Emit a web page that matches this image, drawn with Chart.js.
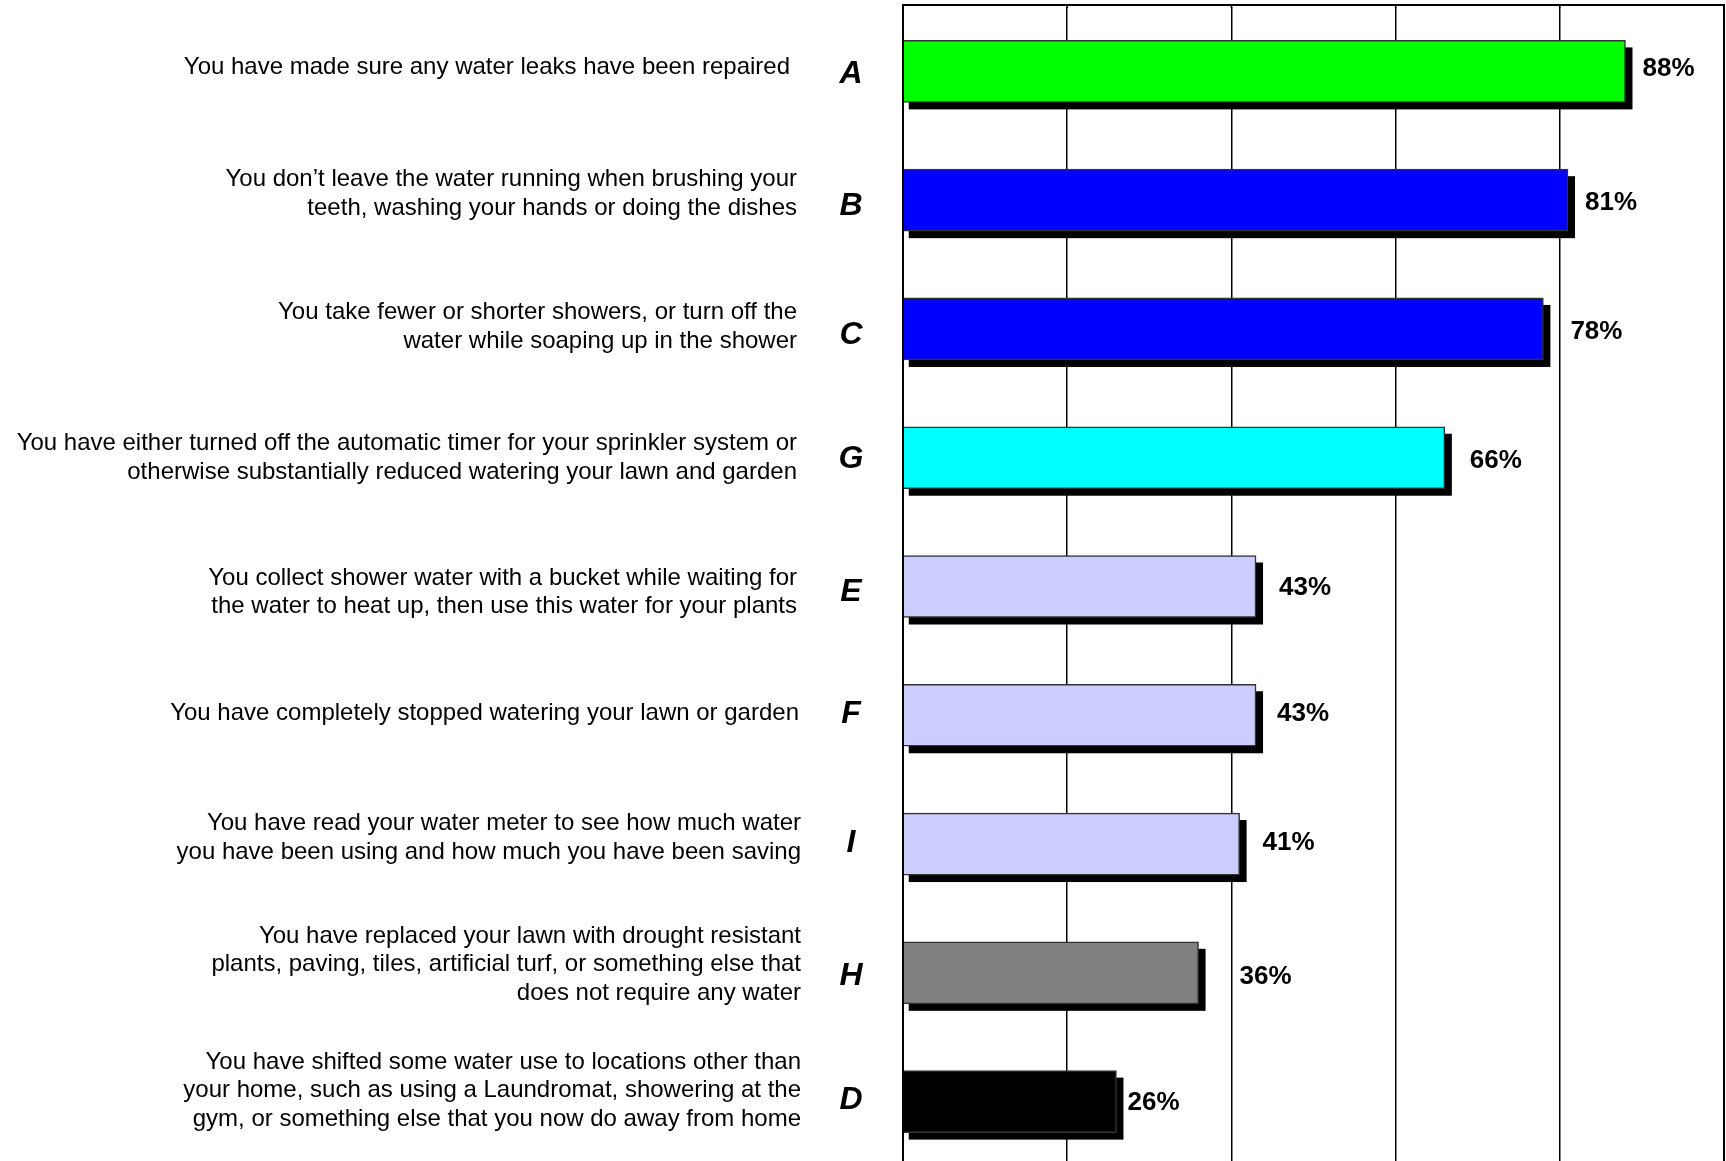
<!DOCTYPE html>
<html>
<head>
<meta charset="utf-8">
<script src="https://cdn.jsdelivr.net/npm/chart.js@4/dist/chart.umd.min.js"></script>
<style>
    html, body { margin: 0; padding: 0; background: #fff; overflow: hidden; }
    #wrap { position: absolute; left: 0; top: 0; width: 1726px; height: 1168px; }
</style>
</head>
<body>
<div id="wrap"><canvas id="chart"></canvas></div>
<script>
// 数据
const letters = ['A', 'B', 'C', 'G', 'E', 'F', 'I', 'H', 'D'];
const statements = [
    ['You have made sure any water leaks have been repaired'],
    ['You don\u2019t leave the water running when brushing your', 'teeth, washing your hands or doing the dishes'],
    ['You take fewer or shorter showers, or turn off the', 'water while soaping up in the shower'],
    ['You have either turned off the automatic timer for your sprinkler system or', 'otherwise substantially reduced watering your lawn and garden'],
    ['You collect shower water with a bucket while waiting for', 'the water to heat up, then use this water for your plants'],
    ['You have completely stopped watering your lawn or garden'],
    ['You have read your water meter to see how much water', 'you have been using and how much you have been saving'],
    ['You have replaced your lawn with drought resistant', 'plants, paving, tiles, artificial turf, or something else that', 'does not require any water'],
    ['You have shifted some water use to locations other than', 'your home, such as using a Laundromat, showering at the', 'gym, or something else that you now do away from home']
];
const values = [88, 81, 78, 66, 43, 43, 41, 36, 26];
const barColors = ['#00ff00', '#0000ff', '#0000ff', '#00ffff', '#ccccff', '#ccccff', '#ccccff', '#808080', '#000000'];
const xTicks = [0, 20, 40, 60, 80, 100];

const FONT = '"Liberation Sans", Arial, sans-serif';

// 标签微调（像素）
const LAYOUT = {
    valueGap: [17, 17, 27, 25, 23, 21, 23, 41, 11],
    valueShift: [-3, 3, 3, 3, 1, -1, -1, 4, 1],
    letterShift: [3, 6, 6, 1, 6, -1, -1, 3, -1],
    textShift: [-4, -6, -2, 0, 6, -2, -6, -8, -11],
    textRight: [790, 797, 797, 797, 797, 799, 801, 801, 801],
    frameTop: 5
};

// 阴影
const shadowPlugin = {
    id: 'shadow',
    beforeDatasetsDraw(chart) {
        const ctx = chart.ctx;
        ctx.save();
        ctx.fillStyle = '#000';
        chart.getDatasetMeta(0).data.forEach(bar => {
            const p = bar.getProps(['x', 'y', 'base', 'height'], true);
            ctx.fillRect(p.base + 5, p.y - p.height / 2 + 7, p.x - p.base + 2, p.height);
        });
        ctx.restore();
    }
};

// 文字标签
const labelPlugin = {
    id: 'labels',
    afterDraw(chart) {
        const ctx = chart.ctx;
        const area = chart.chartArea;
        const xScale = chart.scales.x;
        ctx.save();
        // 边框
        ctx.strokeStyle = '#000';
        ctx.lineWidth = 1.5;
        xTicks.forEach(v => {
            const x = xScale.getPixelForValue(v);
            ctx.beginPath();
            ctx.moveTo(x, LAYOUT.frameTop);
            ctx.lineTo(x, area.top + 1);
            ctx.stroke();
        });
        ctx.lineWidth = 2;
        ctx.strokeRect(area.left, LAYOUT.frameTop, area.right - area.left, area.bottom - LAYOUT.frameTop);

        chart.getDatasetMeta(0).data.forEach((bar, i) => {
            const p = bar.getProps(['x', 'y'], true);
            // 百分比
            ctx.fillStyle = '#000';
            ctx.font = 'bold 26px ' + FONT;
            ctx.textAlign = 'left';
            ctx.textBaseline = 'middle';
            ctx.fillText(values[i] + '%', p.x + LAYOUT.valueGap[i], p.y + LAYOUT.valueShift[i]);
            // 字母
            ctx.font = 'italic bold 32px ' + FONT;
            ctx.textAlign = 'center';
            ctx.fillText(letters[i], 851, p.y + LAYOUT.letterShift[i]);
            // 说明
            ctx.font = '24px ' + FONT;
            ctx.textAlign = 'right';
            const lines = statements[i];
            const lh = 28.6;
            const y0 = p.y + LAYOUT.textShift[i] - (lines.length - 1) * lh / 2;
            lines.forEach((line, j) => ctx.fillText(line, LAYOUT.textRight[i], y0 + j * lh));
        });
        ctx.restore();
    }
};

new Chart(document.getElementById('chart'), {
    type: 'bar',
    data: {
        labels: letters,
        datasets: [{
            data: values,
            backgroundColor: barColors,
            borderColor: '#333',
            borderWidth: 1.5,
            barThickness: 62
        }]
    },
    options: {
        indexAxis: 'y',
        responsive: true,
        maintainAspectRatio: false,
        animation: false,
        events: [],
        layout: { padding: { left: 903, right: 2, top: 7, bottom: 2 } },
        plugins: {
            legend: { display: false },
            tooltip: { enabled: false }
        },
        scales: {
            x: {
                min: 0,
                max: 100,
                afterBuildTicks: scale => { scale.ticks = xTicks.map(v => ({ value: v })); },
                afterFit: scale => { scale.height = 0; },
                ticks: { display: false },
                grid: { color: '#000', lineWidth: 1.5, drawTicks: false },
                border: { display: false }
            },
            y: { display: false }
        }
    },
    plugins: [shadowPlugin, labelPlugin]
});
</script>
</body>
</html>
